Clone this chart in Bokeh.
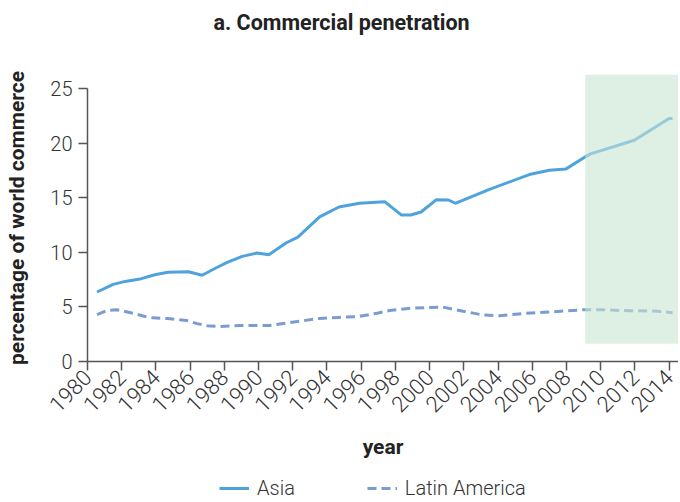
import math
from bokeh.plotting import figure
from bokeh.layouts import column
from bokeh.models import (Range1d, BoxAnnotation, Legend, FixedTicker, SingleIntervalTicker, Title)
from bokeh.embed import file_html
from bokeh.resources import INLINE

# ---- data ----
asia_years = [1980.56, 1981.5, 1982.2, 1983.15, 1983.93, 1984.7, 1985.9, 1986.7, 1987.5,
              1988.2, 1989.05, 1989.9, 1990.6, 1991.6, 1992.3, 1993.57, 1994.7, 1995.9,
              1997.37, 1998.34, 1998.9, 1999.5, 2000.4, 2001.1, 2001.5, 2003.46, 2005.83,
              2007.0, 2007.98, 2009.15, 2009.45, 2011.97, 2014.0, 2014.2]
asia_vals = [6.37, 7.07, 7.34, 7.59, 7.95, 8.17, 8.23, 7.9, 8.57,
             9.1, 9.63, 9.94, 9.79, 10.86, 11.4, 13.25, 14.16, 14.5,
             14.65, 13.43, 13.43, 13.7, 14.83, 14.8, 14.5, 15.75, 17.13,
             17.52, 17.65, 18.8, 19.05, 20.28, 22.27, 22.27]

la_years = [1980.56, 1981.15, 1981.7, 1982.4, 1983.3, 1983.8, 1984.7, 1985.8, 1986.4,
            1987.0, 1987.7, 1988.9, 1990.65, 1991.6, 1992.6, 1993.57, 1994.7, 1995.9,
            1997.0, 1997.66, 1999.0, 2000.77, 2001.55, 2002.33, 2003.1, 2004.08, 2005.5,
            2007.2, 2008.95, 2010.1, 2011.7, 2013.2, 2014.2]
la_vals = [4.3, 4.68, 4.74, 4.52, 4.15, 4.0, 3.93, 3.76, 3.47,
           3.28, 3.21, 3.3, 3.3, 3.52, 3.73, 3.95, 4.04, 4.13,
           4.45, 4.68, 4.9, 4.99, 4.74, 4.5, 4.26, 4.19, 4.4,
           4.56, 4.74, 4.74, 4.65, 4.62, 4.47]

series_names = ["Asia", "Latin America"]
x_ticks = list(range(1980, 2015, 2))
projection_start = 2009.1
projection_bottom = 1.63

ASIA_COLOR = "#4ea3dc"
LATAM_COLOR = "#7a9ccf"
LATAM_DASH = "9 5"

bold_font = "Roboto"
body_font = "Roboto Light"

p = figure(width=678, height=469, x_range=Range1d(1980, 2014.55), y_range=Range1d(0, 26.3),
           output_backend="svg", toolbar_location=None,
           min_border_left=87, min_border_right=0, min_border_top=0, min_border_bottom=108)
p.outline_line_color = None
p.grid.visible = False
p.background_fill_color = "white"
p.border_fill_color = "white"

# spacer (nearest the frame), then the real title
p.add_layout(Title(text=" ", text_font_size="10px", standoff=20), "above")
p.add_layout(Title(text="a. Commercial penetration", text_font=bold_font,
                   text_font_size="21.5px", text_font_style="bold", text_color="#222222",
                   align="left", offset=126, standoff=14), "above")

p.line(asia_years, asia_vals, line_width=3, line_color=ASIA_COLOR)
p.line(la_years, la_vals, line_width=3, line_color=LATAM_COLOR, line_dash=LATAM_DASH)

box = BoxAnnotation(left=projection_start, bottom=projection_bottom,
                    fill_color="#c8e4d2", fill_alpha=0.6, line_color=None)
p.add_layout(box)

for ax in (p.xaxis[0], p.yaxis[0]):
    ax.axis_line_color = "#555555"
    ax.axis_line_width = 1.5
    ax.major_tick_line_color = "#555555"
    ax.major_tick_line_width = 1.5
    ax.major_tick_out = 9
    ax.major_tick_in = 0
    ax.minor_tick_line_color = None
    ax.major_label_text_font = body_font
    ax.major_label_text_color = "#333333"
    ax.axis_label_text_font = bold_font
    ax.axis_label_text_font_style = "bold"
    ax.axis_label_text_font_size = "21px"
    ax.axis_label_text_color = "#222222"

p.xaxis.ticker = FixedTicker(ticks=x_ticks)
p.xaxis.major_label_orientation = math.pi / 4
p.xaxis.major_label_text_font_size = "22px"
p.xaxis.axis_label = "year"
p.xaxis.axis_label_standoff = 13
p.xaxis.major_label_standoff = 3

p.yaxis.ticker = SingleIntervalTicker(interval=5)
p.yaxis.bounds = (0, 25)
p.yaxis.major_label_text_font_size = "20px"
p.yaxis.axis_label = "percentage of world commerce"
p.yaxis.axis_label_standoff = 18
p.yaxis.major_label_standoff = 6

# legend strip underneath the chart (its lines lie outside this strip's ranges,
# so only their legend samples are seen)
q = figure(width=678, height=31, x_range=Range1d(0, 1), y_range=Range1d(0, 1),
           output_backend="svg", toolbar_location=None,
           x_axis_type=None, y_axis_type=None,
           min_border_left=0, min_border_right=0, min_border_top=0, min_border_bottom=0)
q.outline_line_color = None
q.grid.visible = False
q.border_fill_color = "white"
k1 = q.line(asia_years, asia_vals, line_width=3, line_color=ASIA_COLOR)
k2 = q.line(la_years, la_vals, line_width=3, line_color=LATAM_COLOR, line_dash=LATAM_DASH)
legend = Legend(items=[(series_names[0], [k1]), (series_names[1], [k2])],
                orientation="horizontal", location=(132, 0),
                padding=0, margin=0, spacing=72, label_standoff=8,
                glyph_width=30, glyph_height=20, label_height=20,
                label_text_font=body_font, label_text_font_size="20px",
                label_text_color="#333333",
                background_fill_alpha=0, border_line_color=None)
q.add_layout(legend, "center")

layout = column(p, q, spacing=0)
open("out.html", "w").write(file_html(layout, INLINE))
